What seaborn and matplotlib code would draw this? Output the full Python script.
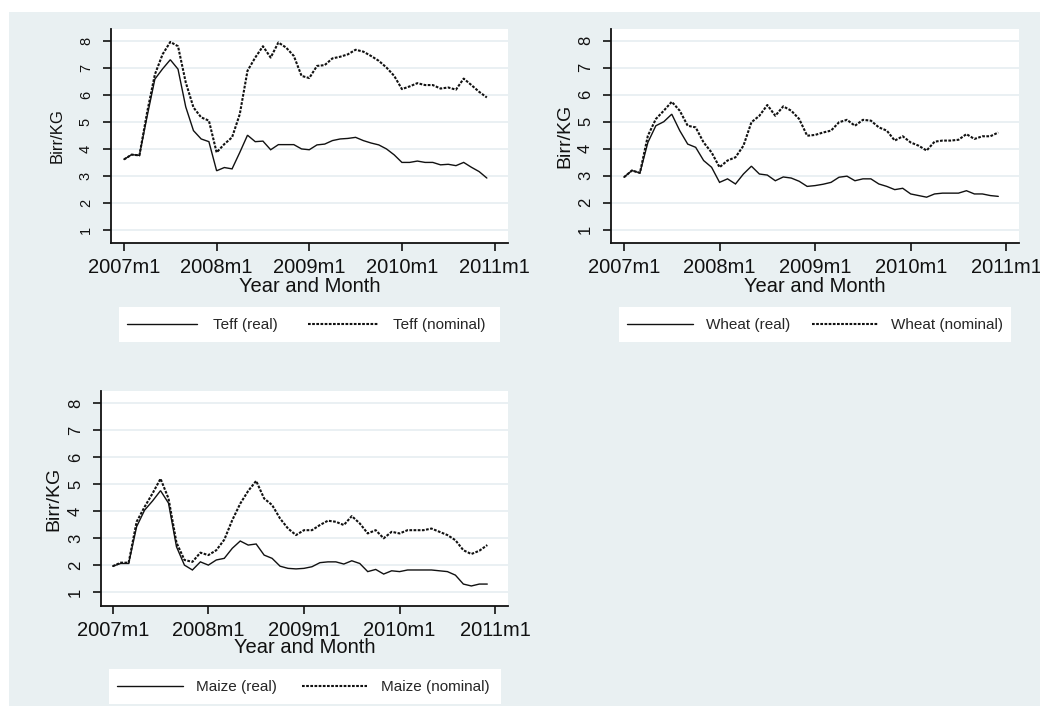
import matplotlib
matplotlib.use("Agg")
import matplotlib.pyplot as plt
from matplotlib.patches import Rectangle
import numpy as np
import pandas as pd
import seaborn as sns

# ---------------- data ----------------
months = list(range(48))  # 0 = 2007m1 ... 47 = 2010m12
x_tick_pos = [0, 12, 24, 36, 48]
x_tick_labels = ["2007m1", "2008m1", "2009m1", "2010m1", "2011m1"]
y_ticks = [1, 2, 3, 4, 5, 6, 7, 8]

teff_real = [3.60, 3.78, 3.75, 5.20, 6.58, 6.96, 7.30, 6.95, 5.55, 4.67, 4.36, 4.26,
             3.18, 3.30, 3.25, 3.86, 4.50, 4.26, 4.28, 3.96, 4.15, 4.15, 4.15, 3.99,
             3.96, 4.14, 4.17, 4.30, 4.36, 4.38, 4.42, 4.30, 4.21, 4.14, 3.99, 3.77,
             3.49, 3.49, 3.54, 3.49, 3.49, 3.40, 3.42, 3.37, 3.49, 3.31, 3.15, 2.91]
teff_nominal = [3.60, 3.78, 3.75, 5.35, 6.75, 7.50, 7.96, 7.80, 6.46, 5.53, 5.16, 5.04,
                3.86, 4.17, 4.42, 5.28, 6.89, 7.38, 7.80, 7.38, 7.94, 7.75, 7.44, 6.70,
                6.62, 7.07, 7.10, 7.35, 7.41, 7.50, 7.67, 7.60, 7.44, 7.26, 7.01, 6.70,
                6.21, 6.31, 6.43, 6.36, 6.36, 6.23, 6.27, 6.19, 6.60, 6.36, 6.11, 5.90]
wheat_real = [2.94, 3.19, 3.10, 4.23, 4.85, 5.00, 5.28, 4.67, 4.17, 4.05, 3.56, 3.31,
              2.75, 2.88, 2.69, 3.06, 3.35, 3.06, 3.02, 2.81, 2.95, 2.91, 2.79, 2.60,
              2.63, 2.68, 2.75, 2.94, 2.98, 2.81, 2.88, 2.88, 2.69, 2.60, 2.48, 2.53,
              2.32, 2.26, 2.20, 2.32, 2.35, 2.35, 2.35, 2.44, 2.32, 2.32, 2.26, 2.23]
wheat_nominal = [2.94, 3.19, 3.10, 4.48, 5.10, 5.41, 5.74, 5.41, 4.85, 4.79, 4.23, 3.86,
                 3.31, 3.56, 3.68, 4.11, 4.98, 5.22, 5.62, 5.22, 5.57, 5.41, 5.10, 4.48,
                 4.51, 4.60, 4.67, 4.98, 5.07, 4.85, 5.07, 5.04, 4.79, 4.67, 4.30, 4.46,
                 4.23, 4.11, 3.93, 4.26, 4.30, 4.30, 4.33, 4.54, 4.36, 4.46, 4.46, 4.60]
maize_real = [1.97, 2.07, 2.07, 3.43, 4.04, 4.38, 4.76, 4.30, 2.69, 2.01, 1.83, 2.13,
              2.01, 2.20, 2.26, 2.63, 2.90, 2.75, 2.79, 2.38, 2.26, 1.97, 1.89, 1.87,
              1.89, 1.95, 2.10, 2.13, 2.13, 2.05, 2.17, 2.07, 1.77, 1.85, 1.68, 1.80,
              1.77, 1.83, 1.83, 1.83, 1.83, 1.80, 1.77, 1.64, 1.31, 1.24, 1.31, 1.31]
maize_nominal = [1.97, 2.10, 2.10, 3.61, 4.16, 4.66, 5.20, 4.47, 2.84, 2.20, 2.13, 2.47,
                 2.38, 2.56, 2.95, 3.67, 4.28, 4.75, 5.12, 4.47, 4.23, 3.73, 3.36, 3.12,
                 3.30, 3.30, 3.49, 3.65, 3.61, 3.49, 3.82, 3.55, 3.18, 3.30, 3.00, 3.24,
                 3.18, 3.30, 3.30, 3.30, 3.36, 3.24, 3.12, 2.93, 2.56, 2.42, 2.54, 2.75]

# ---------------- style ----------------
W, H = 1040, 706
BG = "#e9f0f2"
GRID = "#e6eef1"
INK = "#111111"

sns.set_style("white")
plt.rcParams["font.family"] = ["Liberation Sans", "DejaVu Sans"]

fig = plt.figure(figsize=(W / 100, H / 100), dpi=100, facecolor="white")
fig.add_artist(Rectangle((9 / W, 0), 1 - 9 / W, (H - 12) / H, transform=fig.transFigure,
                         facecolor=BG, edgecolor="none", zorder=-10))


def px_rect(l, t, r, b):
    return [l / W, 1 - b / H, (r - l) / W, (b - t) / H]


def panel(rect, xlim, real, nominal, name, ylab_x, ylab_fs, ytick_fs, xlab_y,
          legbox, leg_x, leg_kw):
    ax = fig.add_axes(px_rect(*rect))
    ax.set_facecolor("white")
    df = pd.DataFrame({"month": months * 2,
                       "price": list(real) + list(nominal),
                       "series": [f"{name} (real)"] * len(real) + [f"{name} (nominal)"] * len(nominal)})
    sns.lineplot(data=df[df.series == f"{name} (real)"], x="month", y="price",
                 color=INK, lw=1.0, ax=ax, label=f"{name} (real)")
    sns.lineplot(data=df[df.series == f"{name} (nominal)"], x="month", y="price",
                 color=INK, lw=1.5, ax=ax, label=f"{name} (nominal)")
    lines = ax.get_lines()
    lines[1].set_dashes((1.3, 0.7))
    for ln in lines:
        ln.set_solid_joinstyle("miter")
    ax.set_xlim(*xlim)
    ax.set_ylim(0.5, 8.44)
    ax.set_xticks(x_tick_pos)
    ax.set_xticklabels(x_tick_labels)
    ax.set_yticks(y_ticks)
    ax.set_yticklabels([str(v) for v in y_ticks])
    ax.grid(False)
    for v in y_ticks:
        ax.axhline(v, color=GRID, lw=1.2, zorder=0)
    for s in ["top", "right"]:
        ax.spines[s].set_visible(False)
    for s in ["left", "bottom"]:
        ax.spines[s].set_color(INK)
        ax.spines[s].set_linewidth(1.3)
    ax.tick_params(axis="x", direction="out", length=6, width=1.2, color=INK,
                   labelsize=14.5, pad=4.5, labelcolor=INK, bottom=True)
    ax.tick_params(axis="y", direction="out", length=6, width=1.2, color=INK,
                   labelsize=ytick_fs, pad=7, labelcolor=INK, labelrotation=90, left=True)
    for t in ax.get_yticklabels():
        t.set_va("center")
    ax.set_xlabel("Year and Month", fontsize=14.5, color=INK)
    ax.xaxis.set_label_coords(0.5, xlab_y)
    ax.xaxis.label.set_va("top")
    ax.set_ylabel("Birr/KG", fontsize=ylab_fs, color=INK)
    ax.yaxis.set_label_coords(ylab_x, 0.5)
    ax.yaxis.label.set_va("center")
    # legend box
    l, t, r, b = legbox
    fig.add_artist(Rectangle((l / W, 1 - b / H), (r - l) / W, (b - t) / H,
                             transform=fig.transFigure, facecolor="white",
                             edgecolor="none", zorder=-5))
    ax.legend(loc="center left", bbox_to_anchor=(leg_x / W, 1 - ((t + b) / 2 + 1) / H),
              bbox_transform=fig.transFigure, ncol=2, frameon=False, fontsize=11,
              borderpad=0, borderaxespad=0, **leg_kw)
    return ax


panel((111, 29, 508, 243), (-1.68, 49.74), teff_real, teff_nominal, "Teff",
      -0.135, 12, 10.5, -0.158, (119, 307, 500, 342), 127,
      dict(handlelength=4.6, handletextpad=1.0, columnspacing=2.0))
panel((611, 29, 1019, 243), (-1.63, 49.6), wheat_real, wheat_nominal, "Wheat",
      -0.112, 14, 12, -0.158, (619, 307, 1011, 342), 627,
      dict(handlelength=4.3, handletextpad=0.85, columnspacing=1.45))
panel((101, 391, 508, 606), (-1.47, 49.6), maize_real, maize_nominal, "Maize",
      -0.117, 14, 12, -0.149, (109, 669, 501, 704), 117,
      dict(handlelength=4.3, handletextpad=0.9, columnspacing=1.6))

fig.savefig("out.png", dpi=100, facecolor=fig.get_facecolor())
